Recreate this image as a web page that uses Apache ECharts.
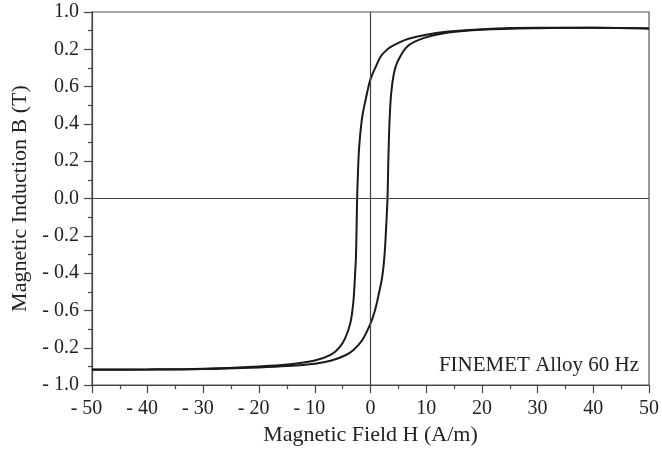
<html>
<head>
    <meta charset='utf-8'/>
    <title>FINEMET hysteresis</title>
    <style>
        body { margin: 0; padding: 0; background: #fff; }
        #chart { width: 662px; height: 451px; }
    </style>
</head>
<body>
<div id='chart'></div>
<script type="text/javascript" src="https://cdn.jsdelivr.net/npm/echarts@6/dist/echarts.min.js"></script>
<script type="text/javascript">
    // descending branch (H from +50 down to -50)
    var fieldDown = [50, 40, 30, 20, 14, 10, 7, 5.4, 3.5, 2.5, 1.8, 1, 0, -0.8, -1.5, -2.0, -2.2, -2.4, -2.6, -2.85, -3.1, -3.6, -4.5, -5.5, -7, -10, -15, -20, -30, -40, -50];
    var inductionDown = [0.912, 0.915, 0.915, 0.908, 0.895, 0.878, 0.858, 0.84, 0.81, 0.785, 0.76, 0.71, 0.64, 0.54, 0.435, 0.29, 0.18, 0.0, -0.3, -0.45, -0.56, -0.665, -0.745, -0.795, -0.835, -0.868, -0.89, -0.90, -0.912, -0.916, -0.917];
    // ascending branch (H from -50 up to +50)
    var fieldUp = [-50, -40, -30, -20, -15, -10, -7, -4.5, -3, -1.5, 0, 0.8, 1.5, 2.1, 2.5, 2.8, 3.05, 3.2, 3.4, 3.7, 4.2, 4.8, 6.6, 9.5, 14, 20, 30, 40, 50];
    var inductionUp = [-0.918, -0.917, -0.914, -0.905, -0.898, -0.885, -0.868, -0.84, -0.81, -0.76, -0.67, -0.60, -0.51, -0.42, -0.31, -0.16, 0.0, 0.2, 0.4, 0.56, 0.67, 0.73, 0.815, 0.86, 0.89, 0.905, 0.913, 0.915, 0.912];

    // tick labels as printed, bottom (-1.0) to top (1.0)
    var yTickLabels = ['- 1.0', '- 0.2', '- 0.6', '- 0.4', '- 0.2', '0.0', '0.2', '0.4', '0.6', '0.2', '1.0'];
    var noteText = 'FINEMET Alloy 60 Hz';

    function pairs(xs, ys) {
        var out = [];
        for (var i = 0; i < xs.length; i++) out.push([xs[i], ys[i]]);
        return out;
    }

    var font = 'Liberation Serif';
    var axisColor = '#444';
    var textColor = '#222';

    var chart = echarts.init(document.getElementById('chart'), null, {renderer: 'canvas'});
    var option = {
        backgroundColor: '#fff',
        animation: false,
        title: {
            text: noteText,
            right: 23,
            top: 355,
            padding: 0,
            textStyle: {fontFamily: font, fontSize: 21, fontWeight: 'normal', color: textColor}
        },
        grid: {
            left: 92, right: 13, top: 12, bottom: 63,
            show: true, borderColor: '#555', borderWidth: 1.2, backgroundColor: 'transparent'
        },
        xAxis: {
            type: 'value',
            min: -50, max: 50, interval: 10,
            name: 'Magnetic Field H (A/m)',
            nameLocation: 'middle',
            nameGap: 37,
            nameTextStyle: {fontFamily: font, fontSize: 22, color: textColor},
            axisLine: {onZero: false, lineStyle: {color: axisColor, width: 1.2}},
            axisTick: {inside: false, length: 8, lineStyle: {color: axisColor, width: 1.2}},
            minorTick: {show: true, splitNumber: 2, length: 4, lineStyle: {color: axisColor, width: 1.2}},
            splitLine: {show: false},
            axisLabel: {
                margin: 14,
                fontFamily: font, fontSize: 20, color: textColor,
                // keep the digits centred on the tick, the minus hangs to the left
                formatter: function (v) { return v < 0 ? '{n|- ' + Math.abs(v) + '}' : String(v); },
                rich: {n: {fontFamily: font, fontSize: 20, color: textColor, padding: [0, 11, 0, 0]}}
            }
        },
        yAxis: {
            type: 'value',
            min: -1, max: 1, interval: 0.2,
            name: 'Magnetic Induction B (T)',
            nameLocation: 'middle',
            nameGap: 59,
            nameTextStyle: {fontFamily: font, fontSize: 22, color: textColor},
            axisLine: {show: true, onZero: false, lineStyle: {color: axisColor, width: 1.2}},
            axisTick: {show: true, inside: false, length: 8, lineStyle: {color: axisColor, width: 1.2}},
            minorTick: {show: true, splitNumber: 2, length: 4, lineStyle: {color: axisColor, width: 1.2}},
            splitLine: {show: false},
            axisLabel: {
                margin: 13,
                fontFamily: font, fontSize: 20, color: textColor,
                formatter: function (v) { return yTickLabels[Math.round((v + 1) / 0.2)]; }
            }
        },
        series: [
            {
                type: 'line',
                data: pairs(fieldDown, inductionDown),
                smooth: 0.35,
                showSymbol: false,
                lineStyle: {color: '#1a1a1a', width: 2},
                markLine: {
                    silent: true,
                    symbol: 'none',
                    label: {show: false},
                    lineStyle: {color: '#444', width: 1.2, type: 'solid'},
                    data: [{xAxis: 0}, {yAxis: 0}]
                }
            },
            {
                type: 'line',
                data: pairs(fieldUp, inductionUp),
                smooth: 0.35,
                showSymbol: false,
                lineStyle: {color: '#1a1a1a', width: 2}
            }
        ]
    };
    chart.setOption(option);
</script>
</body>
</html>
